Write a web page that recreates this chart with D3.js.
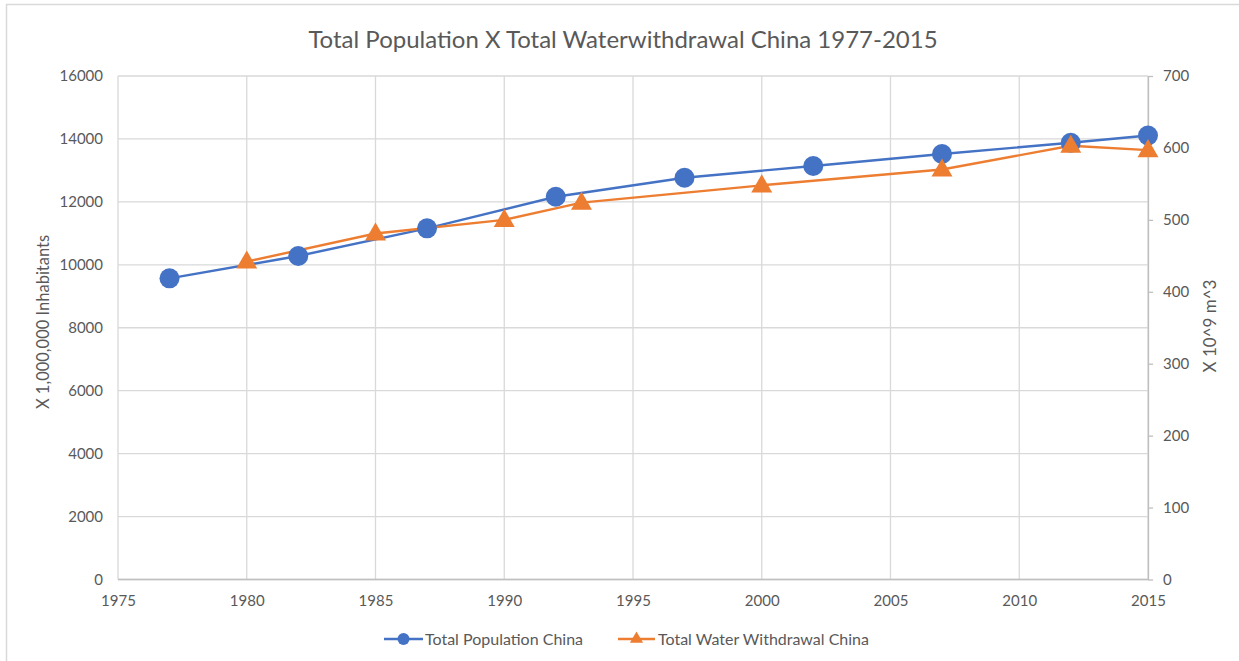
<!DOCTYPE html>
<html>
<head>
<meta charset="utf-8">
<script src="https://cdn.jsdelivr.net/npm/d3@7"></script>
<style>
  body { margin: 0; background: #fff; }
  svg { font-family: Lato, "Open Sans", sans-serif; }
</style>
</head>
<body>
<div id="chart"></div>
<script>
// population (millions) by year
const popYears = [1977, 1982, 1987, 1992, 1997, 2002, 2007, 2012, 2015];
const popValues = [9571, 10280, 11160, 12164, 12768, 13140, 13521, 13880, 14110];
// water withdrawal (10^9 m^3) by year
const waterYears = [1980, 1985, 1990, 1993, 2000, 2007, 2012, 2015];
const waterValues = [442, 481, 500, 524, 548, 570, 603, 597];

const xTicks = [1975, 1980, 1985, 1990, 1995, 2000, 2005, 2010, 2015];
const leftTicks = [0, 2000, 4000, 6000, 8000, 10000, 12000, 14000, 16000];
const rightTicks = [0, 100, 200, 300, 400, 500, 600, 700];

const width = 1239, height = 661;
const blue = "#4472C4", orange = "#ED7D31", grid = "#d9d9d9", txt = "#595959";

const svg = d3.select("#chart").append("svg").attr("width", width).attr("height", height);

// chart frame
svg.append("rect").attr("x", 6.5).attr("y", 4.5).attr("width", 1300).attr("height", 700)
  .attr("fill", "#fff").attr("stroke", "#d9d9d9").attr("stroke-width", 1.5);

const x = d3.scaleLinear().domain([1975, 2015]).range([118, 1148]);
const yL = d3.scaleLinear().domain([0, 16000]).range([579.5, 76]);
const yR = d3.scaleLinear().domain([0, 700]).range([579.5, 76]);

// gridlines
svg.append("g").selectAll("line").data(leftTicks).enter().append("line")
  .attr("x1", 118).attr("x2", 1148)
  .attr("y1", d => yL(d)).attr("y2", d => yL(d))
  .attr("stroke", grid).attr("stroke-width", 1.3);
svg.append("g").selectAll("line").data(xTicks).enter().append("line")
  .attr("x1", d => x(d)).attr("x2", d => x(d))
  .attr("y1", 76).attr("y2", 579.5)
  .attr("stroke", grid).attr("stroke-width", 1.3);

// bottom axis line
svg.append("line").attr("x1", 118).attr("x2", 1148).attr("y1", 579.5).attr("y2", 579.5)
  .attr("stroke", "#bfbfbf").attr("stroke-width", 1.3);

// axes
const gx = svg.append("g").attr("transform", "translate(0,579.5)")
  .call(d3.axisBottom(x).tickValues(xTicks).tickFormat(d3.format("d")).tickSize(0).tickPadding(16));
gx.select(".domain").remove();

const gl = svg.append("g").attr("transform", "translate(118,0)")
  .call(d3.axisLeft(yL).tickValues(leftTicks).tickFormat(d3.format("d")).tickSize(0).tickPadding(15));
gl.select(".domain").remove();

const gr = svg.append("g").attr("transform", "translate(1148,0)")
  .call(d3.axisRight(yR).tickValues(rightTicks).tickFormat(d3.format("d")).tickSizeOuter(0).tickSizeInner(5).tickPadding(10));
gr.select(".domain").attr("stroke", "#bfbfbf").attr("stroke-width", 1.3);
gr.selectAll(".tick line").attr("stroke", "#bfbfbf").attr("stroke-width", 1.3);

svg.selectAll(".tick text").attr("fill", txt).style("font-size", "15px").style("font-family", "Lato, sans-serif");

// title
svg.append("text").attr("x", 623).attr("y", 48).attr("text-anchor", "middle")
  .attr("fill", txt).style("font-size", "24px").text("Total Population X Total Waterwithdrawal China 1977-2015");

// axis titles
svg.append("text").attr("transform", "translate(49,322) rotate(-90)").attr("text-anchor", "middle")
  .attr("fill", txt).style("font-size", "16.5px").text("X 1,000,000 Inhabitants");
svg.append("text").attr("transform", "translate(1216,326) rotate(-90)").attr("text-anchor", "middle")
  .attr("fill", txt).style("font-size", "17px").text("X 10^9 m^3");

// series
const popData = popYears.map((d, i) => ({ year: d, v: popValues[i] }));
const waterData = waterYears.map((d, i) => ({ year: d, v: waterValues[i] }));

svg.append("path").datum(popData)
  .attr("d", d3.line().x(d => x(d.year)).y(d => yL(d.v)))
  .attr("fill", "none").attr("stroke", blue).attr("stroke-width", 2.4);
svg.append("path").datum(waterData)
  .attr("d", d3.line().x(d => x(d.year)).y(d => yR(d.v)))
  .attr("fill", "none").attr("stroke", orange).attr("stroke-width", 2.4);

svg.append("g").selectAll("circle").data(popData).enter().append("circle")
  .attr("cx", d => x(d.year)).attr("cy", d => yL(d.v)).attr("r", 10).attr("fill", blue);

const tri = d3.symbol().type(d3.symbolTriangle).size(190);
svg.append("g").selectAll("path").data(waterData).enter().append("path")
  .attr("d", tri).attr("transform", d => `translate(${x(d.year)},${yR(d.v) + 1})`).attr("fill", orange);

// legend
const legend = svg.append("g").attr("transform", "translate(0,639)");
legend.append("line").attr("x1", 384).attr("x2", 423).attr("stroke", blue).attr("stroke-width", 2.4);
legend.append("circle").attr("cx", 403.5).attr("r", 6).attr("fill", blue);
legend.append("text").attr("x", 425).attr("dy", "0.35em").attr("fill", txt).style("font-size", "16px").text("Total Population China");
legend.append("line").attr("x1", 618).attr("x2", 655).attr("stroke", orange).attr("stroke-width", 2.4);
legend.append("path").attr("d", d3.symbol().type(d3.symbolTriangle).size(75)).attr("transform", "translate(636.5,0)").attr("fill", orange);
legend.append("text").attr("x", 658).attr("dy", "0.35em").attr("fill", txt).style("font-size", "16px").text("Total Water Withdrawal China");
</script>
</body>
</html>
